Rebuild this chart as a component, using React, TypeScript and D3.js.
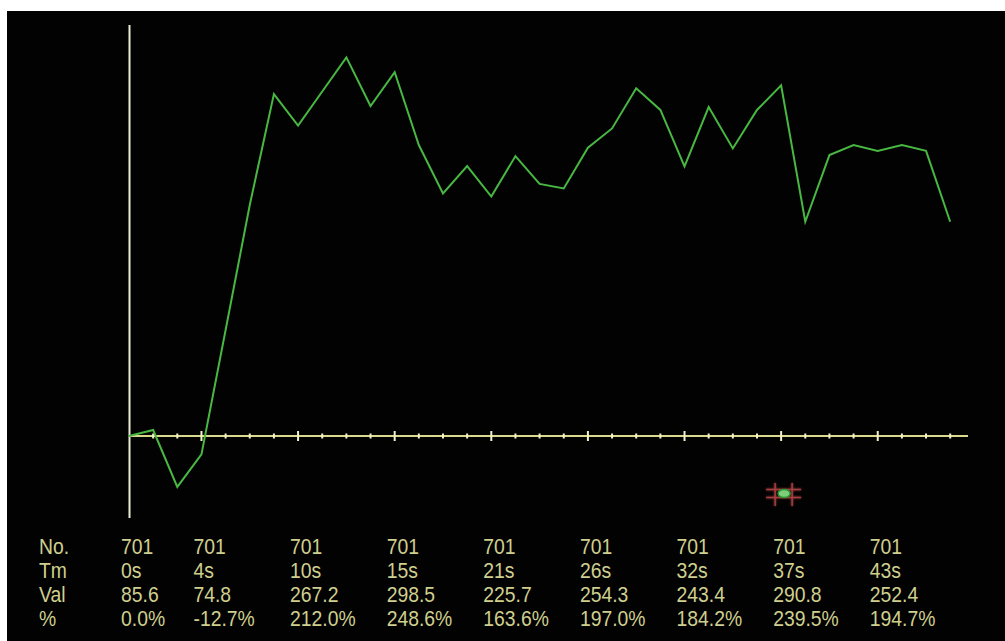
import React from "react";
import * as d3 from "d3";

// Sample values, one per recorded point (index = sample number)
const values: number[] = [
  85.6, 89.1, 55.8, 74.8, 147.6, 220.8, 285.7, 267.2, 287.2, 307.2,
  278.7, 298.5, 255.9, 227.6, 243.6, 225.7, 249.4, 233.1, 230.5, 254.3,
  265.6, 289.1, 276.4, 243.4, 278.1, 253.9, 276.4, 290.8, 211.0, 250.0,
  255.9, 252.4, 255.9, 252.5, 211.0,
];

// Readout columns: which sample each column reports on
const readoutIndex: number[] = [0, 3, 7, 11, 15, 19, 23, 27, 31];
const readoutNo: string[] = ["701", "701", "701", "701", "701", "701", "701", "701", "701"];
const readoutTime: number[] = [0, 4, 10, 15, 21, 26, 32, 37, 43];
// Change against the first sample, as reported by the instrument
const readoutPct: string[] = ["0.0%", "-12.7%", "212.0%", "248.6%", "163.6%", "197.0%", "184.2%", "239.5%", "194.7%"];
const rowLabels: string[] = ["No.", "Tm", "Val", "%"];

// Cursor position (sample index)
const cursorIndex = 27;

const W = 1005;
const H = 641;

export default function App() {
  const base = values[0];
  const x = d3.scaleLinear().domain([0, values.length - 1]).range([129, 950.2]);
  const y = d3.scaleLinear().domain([base, 298.5]).range([436, 72.2]);

  const line = d3
    .line<number>()
    .x((_, i) => x(i))
    .y((d) => y(d));

  const ticks = d3.range(1, values.length);

  const rowY = [554, 578, 602, 626];
  const textColor = "#cfcf8e";
  const font = "'Liberation Sans', Arial, sans-serif";

  const cx = x(cursorIndex) + 3;
  const cy = 493;

  const Cell = ({ tx, ty, s }: { tx: number; ty: number; s: string }) => (
    <text transform={`translate(${tx},${ty}) scale(0.88,1)`}>{s}</text>
  );

  return (
    <svg
      width={W}
      height={H}
      style={{ position: "fixed", left: 0, top: 0, display: "block" }}
    >
      <defs>
        <filter id="glow" x="-50%" y="-50%" width="200%" height="200%">
          <feGaussianBlur stdDeviation="1.2" result="b" />
          <feMerge>
            <feMergeNode in="b" />
            <feMergeNode in="SourceGraphic" />
          </feMerge>
        </filter>
      </defs>
      <rect x={0} y={0} width={W} height={H} fill="#ffffff" />
      <rect x={7} y={11} width={W - 7} height={H - 11} fill="#020203" />

      {/* vertical axis */}
      <line x1={129.5} x2={129.5} y1={25} y2={518} stroke="#ecebd6" strokeWidth={2} />

      {/* horizontal baseline axis */}
      <line x1={129} x2={968} y1={y(base)} y2={y(base)} stroke="#d9d98e" strokeWidth={2} />
      {ticks.map((i) => {
        const major = i % 4 === 3;
        const h = major ? 5 : 2.5;
        return (
          <line
            key={i}
            x1={x(i)}
            x2={x(i)}
            y1={y(base) - h}
            y2={y(base) + h}
            stroke="#f4f2c8"
            strokeWidth={2}
          />
        );
      })}

      {/* value trace */}
      <path
        d={line(values) || ""}
        fill="none"
        stroke="#48b842"
        strokeWidth={2}
        strokeLinejoin="miter"
      />

      {/* cursor marker */}
      <g filter="url(#glow)" stroke="#c24a48" strokeWidth={1.5} opacity={0.85}>
        <line x1={cx - 9} x2={cx - 9} y1={cy - 10} y2={cy + 13} />
        <line x1={cx + 8} x2={cx + 8} y1={cy - 10} y2={cy + 13} />
        <line x1={cx - 18} x2={cx + 17} y1={cy - 3.5} y2={cy - 3.5} />
        <line x1={cx - 18} x2={cx + 17} y1={cy + 4.5} y2={cy + 4.5} />
      </g>
      <ellipse cx={cx} cy={cy + 0.5} rx={6} ry={4} fill="#7fcf7a" stroke="#2a9a34" strokeWidth={1.5} />

      {/* readout table */}
      <g fill={textColor} fontFamily={font} fontSize={22}>
        {rowLabels.map((lab, r) => (
          <Cell key={lab} tx={39} ty={rowY[r]} s={lab} />
        ))}
        {readoutIndex.map((idx, c) => {
          const tx = x(idx) - 8;
          return (
            <g key={c}>
              <Cell tx={tx} ty={rowY[0]} s={readoutNo[c]} />
              <Cell tx={tx} ty={rowY[1]} s={readoutTime[c] + "s"} />
              <Cell tx={tx} ty={rowY[2]} s={values[idx].toFixed(1)} />
              <Cell tx={tx} ty={rowY[3]} s={readoutPct[c]} />
            </g>
          );
        })}
      </g>
    </svg>
  );
}
